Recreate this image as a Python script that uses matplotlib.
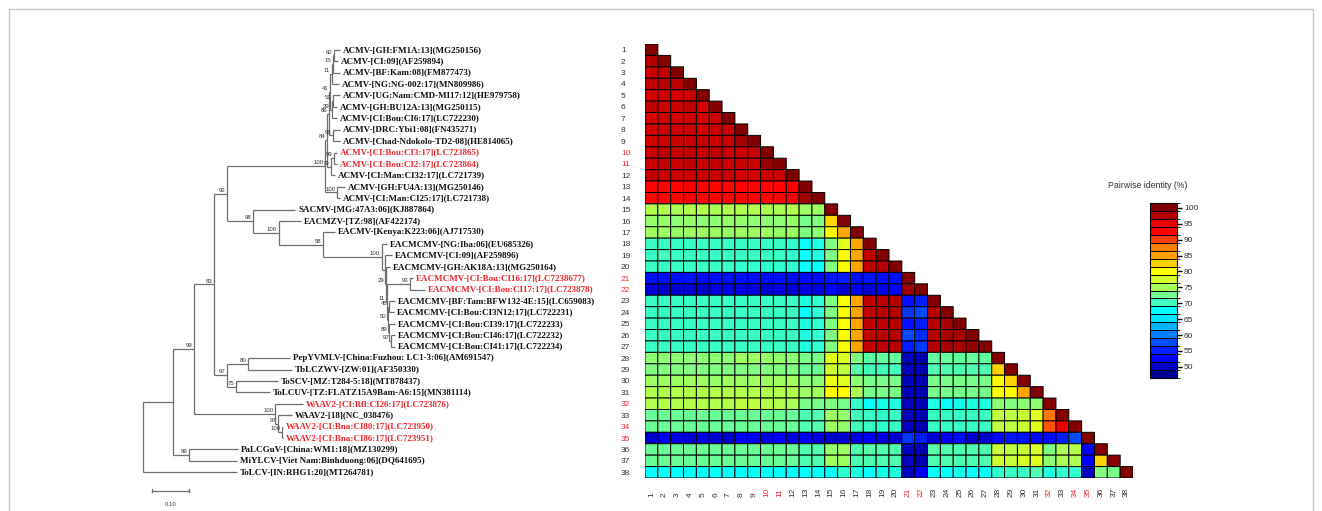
import numpy as np
import matplotlib
matplotlib.use("Agg")
import matplotlib.pyplot as plt
from matplotlib.colors import ListedColormap, LinearSegmentedColormap, BoundaryNorm, Normalize
from matplotlib.cm import ScalarMappable
from matplotlib.patches import Rectangle

# ---------------------------------------------------------------- data
TIP_LABELS = [
    "ACMV-[GH:FM1A:13](MG250156)",
    "ACMV-[CI:09](AF259894)",
    "ACMV-[BF:Kam:08](FM877473)",
    "ACMV-[NG:NG-002:17](MN809986)",
    "ACMV-[UG:Nam:CMD-MI17:12](HE979758)",
    "ACMV-[GH:BU12A:13](MG250115)",
    "ACMV-[CI:Bou:CI6:17](LC722230)",
    "ACMV-[DRC:Ybi1:08](FN435271)",
    "ACMV-[Chad-Ndokolo-TD2-08](HE814065)",
    "ACMV-[CI:Bou:CI3:17](LC723865)",
    "ACMV-[CI:Bou:CI2:17](LC723864)",
    "ACMV-[CI:Man:CI32:17](LC721739)",
    "ACMV-[GH:FU4A:13](MG250146)",
    "ACMV-[CI:Man:CI25:17](LC721738)",
    "SACMV-[MG:47A3:06](KJ887864)",
    "EACMZV-[TZ:98](AF422174)",
    "EACMV-[Kenya:K223:06](AJ717530)",
    "EACMCMV-[NG:Iba:06](EU685326)",
    "EACMCMV-[CI:09](AF259896)",
    "EACMCMV-[GH:AK18A:13](MG250164)",
    "EACMCMV-[CI:Bou:CI16:17](LC7238677)",
    "EACMCMV-[CI:Bou:CI17:17](LC723878)",
    "EACMCMV-[BF:Tam:BFW132-4E:15](LC659083)",
    "EACMCMV-[CI:Bou:CI3N12:17](LC722231)",
    "EACMCMV-[CI:Bou:CI39:17](LC722233)",
    "EACMCMV-[CI:Bou:CI46:17](LC722232)",
    "EACMCMV-[CI:Bou:CI41:17](LC722234)",
    "PepYVMLV-[China:Fuzhou: LC1-3:06](AM691547)",
    "TbLCZWV-[ZW:01](AF350330)",
    "ToSCV-[MZ:T284-5:18](MT878437)",
    "ToLCUV-[TZ:FLATZ15A9Bam-A6:15](MN381114)",
    "WAAV2-[CI:Bfl:CI26:17](LC723876)",
    "WAAV2-[18](NC_038476)",
    "WAAV2-[CI:Bna:CI80:17](LC723950)",
    "WAAV2-[CI:Bna:CI86:17](LC723951)",
    "PaLCGuV-[China:WM1:18](MZ130299)",
    "MiYLCV-[Viet Nam:Binhduong:06](DQ641695)",
    "ToLCV-[IN:RHG1:20](MT264781)",
]
HIGHLIGHT = [10, 11, 21, 22, 32, 34, 35]   # isolates from this study (1-based)

# tree: tip = (branch length, tip index), node = (branch length, bootstrap, children)
ACMV = (0.265, "100", [
    (0.005, "84", [
        (0.005, "86", [
            (0.003, "41", [
                (0.005, "11", [
                    (0.003, "15", [
                        (0.003, "60", [(0.016, 0), (0.011, 1)]),
                        (0.019, 2)]),
                    (0.019, 3)]),
                (0.005, "39", [
                    (0.003, "51", [(0.019, 4), (0.011, 5)]),
                    (0.014, 6)]),
            ]),
            (0.011, "96", [(0.019, 7), (0.019, 8)]),
        ]),
        (0.011, "79", [
            (0.008, "99", [(0.008, 9), (0.008, 10)]),
            (0.011, 11)]),
    ]),
    (0.032, "100", [(0.022, 12), (0.008, 13)]),
])
EACMCMV = (0.159, "100", [
    (0.014, 17),
    (0.008, None, [
        (0.019, 18),
        (0.003, "29", [
            (0.011, 19),
            (0.003, "11", [
                (0.062, "93", [(0.008, 20), (0.041, 21)]),
                (0.003, "50", [
                    (0.003, "45", [(0.016, 22), (0.014, 23)]),
                    (0.003, "89", [
                        (0.016, 24),
                        (0.005, "97", [(0.011, 25), (0.011, 26)])]),
                ]),
            ]),
        ]),
    ]),
])
CASSAVA = (0.070, "98", [
    (0.114, 14),
    (0.070, "100", [
        (0.059, 15),
        (0.119, "58", [(0.032, 16), EACMCMV]),
    ]),
])
OTHERS = (0.035, "97", [
    (0.057, "80", [(0.114, 27), (0.119, 28)]),
    (0.024, "75", [(0.114, 29), (0.092, 30)]),
])
WAAV2 = (0.219, "100", [
    (0.076, 31),
    (0.008, "97", [
        (0.038, 32),
        (0.011, "100", [(0.003, 33), (0.003, 34)])]),
])
TREE = (0.0, None, [
    (0.081, None, [
        (0.057, "99", [
            (0.054, "83", [
                (0.035, "92", [ACMV, CASSAVA]),
                OTHERS,
            ]),
            WAAV2,
        ]),
        (0.043, "99", [(0.132, 35), (0.130, 36)]),
    ]),
    (0.254, 37),
])

# pairwise identity (%), lower triangle, row i vs columns 1..i
PID = [
    [100],
    [97.5, 100],
    [96.5, 97.0, 100],
    [97.0, 97.5, 97.0, 100],
    [96.0, 96.5, 96.0, 96.5, 100],
    [97.0, 96.5, 96.5, 97.0, 96.0, 100],
    [96.0, 96.5, 96.0, 96.5, 96.0, 96.5, 100],
    [96.0, 96.5, 96.5, 96.5, 96.0, 96.5, 96.5, 100],
    [96.0, 96.5, 96.5, 96.5, 96.5, 96.5, 96.5, 98.0, 100],
    [96.5, 97.0, 96.5, 97.0, 96.5, 97.0, 96.5, 96.5, 96.5, 100],
    [96.5, 97.0, 96.5, 97.0, 96.5, 97.0, 96.5, 96.5, 96.5, 99.0, 100],
    [97.0, 96.5, 96.5, 96.5, 96.5, 96.5, 96.5, 96.0, 96.0, 96.5, 96.5, 100],
    [92.5, 92.5, 92.5, 93.0, 92.5, 92.5, 92.5, 92.5, 92.5, 92.5, 92.5, 93.0, 100],
    [92.5, 92.5, 92.5, 93.0, 92.5, 92.5, 92.5, 92.5, 92.5, 92.5, 92.5, 94.0, 98.5, 100],
    [76.0, 76.0, 75.5, 76.0, 76.0, 75.5, 76.0, 76.0, 76.0, 75.5, 75.5, 76.0, 75.0, 75.0, 100],
    [74.5, 74.5, 74.0, 74.5, 74.0, 74.0, 74.5, 74.5, 74.0, 74.0, 74.0, 74.5, 73.0, 73.5, 82.5, 100],
    [75.0, 75.0, 74.5, 75.0, 75.0, 75.0, 74.5, 75.0, 75.0, 75.0, 74.5, 75.0, 73.5, 74.0, 80.5, 85.0, 100],
    [70.0, 70.0, 70.0, 70.0, 70.0, 70.0, 70.0, 70.0, 70.0, 70.0, 70.0, 69.5, 68.0, 69.0, 73.5, 78.5, 85.0, 100],
    [70.0, 70.5, 70.0, 70.0, 70.0, 70.0, 70.0, 70.0, 70.0, 70.0, 70.0, 69.5, 68.0, 69.0, 73.5, 80.0, 85.0, 97.0, 100],
    [70.0, 70.0, 70.0, 70.0, 70.0, 70.0, 70.0, 69.5, 69.5, 69.5, 69.5, 69.5, 68.0, 68.0, 73.5, 80.0, 85.0, 97.0, 97.5, 100],
    [54.0, 54.0, 54.0, 54.0, 53.5, 54.0, 54.0, 54.0, 54.0, 54.0, 54.0, 53.5, 53.5, 53.5, 54.5, 55.0, 54.0, 54.5, 54.0, 54.0, 100],
    [51.0, 50.5, 51.0, 51.0, 50.5, 51.5, 52.0, 51.5, 51.5, 51.0, 51.5, 51.0, 51.5, 51.5, 53.0, 51.0, 52.0, 51.0, 52.0, 53.0, 98.5, 100],
    [70.0, 70.0, 70.0, 70.0, 70.0, 70.0, 70.0, 70.0, 70.0, 70.0, 70.0, 70.0, 69.0, 69.5, 73.5, 80.0, 85.0, 96.8, 97.2, 97.5, 54.0, 55.0, 100],
    [70.0, 70.0, 70.0, 70.0, 70.0, 70.0, 70.0, 70.0, 70.0, 70.0, 70.0, 70.0, 68.0, 69.5, 73.5, 80.0, 85.0, 96.8, 97.2, 97.5, 56.5, 57.5, 97.5, 100],
    [70.0, 70.0, 70.0, 70.0, 70.0, 70.0, 70.0, 70.0, 70.0, 70.0, 70.0, 70.0, 69.0, 69.5, 73.5, 80.0, 85.0, 96.8, 97.2, 97.5, 54.0, 55.0, 97.5, 98.0, 100],
    [70.0, 70.0, 70.0, 70.0, 70.0, 70.0, 70.0, 70.0, 70.0, 70.0, 70.0, 70.0, 69.0, 69.5, 73.5, 80.0, 85.0, 96.8, 97.2, 97.5, 57.5, 56.0, 97.5, 98.0, 98.0, 100],
    [70.0, 70.0, 70.0, 70.0, 70.0, 70.0, 70.0, 70.0, 70.0, 70.0, 70.0, 70.0, 69.0, 69.5, 73.5, 80.0, 85.0, 96.8, 97.2, 97.5, 55.0, 56.5, 97.5, 98.0, 98.0, 99.0, 100],
    [74.0, 74.0, 74.0, 74.0, 74.0, 74.0, 74.0, 75.0, 75.0, 74.5, 74.5, 74.0, 73.0, 73.0, 78.5, 78.0, 73.5, 71.5, 72.0, 72.0, 50.0, 49.5, 72.0, 72.0, 72.0, 72.0, 72.0, 100],
    [73.5, 73.5, 73.5, 73.5, 73.5, 73.5, 73.5, 73.5, 73.5, 73.5, 73.5, 73.5, 72.5, 72.5, 77.5, 76.5, 71.5, 70.5, 70.5, 70.5, 50.0, 49.5, 71.0, 71.0, 71.0, 71.0, 71.0, 82.5, 100],
    [75.0, 75.0, 75.0, 75.0, 75.0, 74.5, 75.0, 75.0, 75.0, 75.0, 75.0, 75.0, 74.0, 74.0, 79.0, 78.5, 74.0, 73.0, 73.0, 73.0, 50.0, 49.5, 73.0, 73.0, 73.0, 73.0, 73.0, 80.5, 82.5, 100],
    [76.0, 76.0, 76.0, 76.0, 76.0, 76.0, 76.0, 76.0, 76.0, 76.0, 76.0, 76.0, 75.0, 75.0, 80.5, 80.5, 75.5, 73.0, 73.0, 73.0, 50.0, 49.5, 73.0, 73.0, 73.0, 73.0, 73.0, 80.5, 80.5, 85.0, 100],
    [76.0, 76.0, 76.0, 76.0, 76.0, 76.0, 76.0, 76.5, 76.5, 76.0, 76.0, 75.5, 73.0, 73.0, 73.5, 73.0, 70.0, 68.0, 68.5, 69.0, 50.0, 49.5, 69.0, 68.0, 68.5, 69.0, 69.0, 74.0, 73.5, 74.0, 74.0, 100],
    [72.5, 72.5, 72.5, 72.5, 72.5, 72.5, 72.5, 72.5, 72.5, 72.5, 72.5, 72.5, 71.0, 71.0, 75.0, 74.5, 70.5, 70.0, 69.5, 70.0, 50.0, 49.5, 70.0, 70.0, 70.0, 70.0, 70.0, 76.5, 76.5, 77.0, 78.5, 88.0, 100],
    [72.5, 72.5, 72.5, 72.5, 72.5, 72.5, 72.5, 72.5, 72.5, 72.5, 72.5, 72.5, 71.0, 71.0, 75.0, 74.5, 70.5, 70.0, 69.5, 70.0, 50.0, 49.5, 70.0, 70.0, 70.0, 70.0, 70.0, 76.5, 76.5, 77.0, 78.5, 89.5, 95.0, 100],
    [50.5, 52.5, 51.5, 51.0, 52.0, 51.0, 50.5, 52.5, 52.5, 51.5, 52.5, 51.5, 52.5, 51.5, 50.5, 51.0, 51.5, 52.5, 51.5, 51.0, 56.5, 55.0, 51.0, 52.5, 53.5, 50.5, 50.5, 53.5, 54.5, 54.5, 53.5, 53.5, 55.0, 57.5, 100],
    [72.5, 72.5, 72.5, 72.5, 72.5, 72.5, 72.5, 72.5, 72.5, 72.5, 72.5, 72.5, 71.0, 71.0, 74.5, 75.0, 71.0, 71.5, 71.0, 71.0, 50.0, 49.5, 71.5, 71.0, 71.0, 71.0, 71.0, 77.0, 76.5, 77.0, 78.0, 73.5, 75.5, 76.0, 53.0, 100],
    [72.5, 72.5, 72.5, 72.5, 72.5, 72.5, 72.5, 72.5, 72.5, 72.5, 72.5, 72.5, 71.0, 71.0, 75.0, 75.0, 71.0, 71.0, 71.0, 71.0, 50.0, 49.0, 71.0, 71.0, 71.0, 71.0, 71.0, 77.5, 77.0, 78.0, 78.5, 74.0, 75.5, 75.5, 53.0, 82.5, 100],
    [68.0, 68.0, 68.0, 68.0, 68.0, 68.0, 68.0, 68.0, 68.0, 68.0, 68.0, 68.0, 68.0, 68.0, 68.0, 69.5, 69.0, 68.0, 68.5, 69.0, 50.0, 52.5, 68.0, 68.0, 68.5, 68.0, 68.0, 69.5, 70.0, 70.0, 71.0, 69.0, 69.5, 69.5, 50.0, 73.5, 73.0, 100],
]

CB_COLORS = ["#000090", "#0000c8", "#0000ff", "#0020ff", "#0050ff", "#0080ff",
             "#00b2ff", "#00e5ff", "#00ffff", "#40ffc0", "#70ff90", "#a5ff5a",
             "#d4ff2a", "#ffff00", "#ffd000", "#ffa000", "#ff7f00", "#ff3f00",
             "#ff0000", "#e60000", "#b20000", "#7f0000"]
CB_TICKS = [50, 55, 60, 65, 70, 75, 80, 85, 90, 95, 100]

# ---------------------------------------------------------------- figure
W, H = 1322, 511
fig = plt.figure(figsize=(W / 100, H / 100), dpi=100)
RED = "#f0282d"
TXT = "#333333"


def px_axes(left, top, right, bottom):
    return fig.add_axes([left / W, 1 - bottom / H, (right - left) / W, (bottom - top) / H])


def layout(node, x0, out):
    """Walk the tree, collecting segments; returns y of the node."""
    if len(node) == 2:
        bl, idx = node
        x = x0 + bl
        y = idx + 0.5
        out["tips"].append((idx, x, y))
        out["h"].append((x0, x, y))
        return y
    bl, bs, kids = node
    x = x0 + bl
    ys = [layout(k, x, out) for k in kids]
    y = (min(ys) + max(ys)) / 2
    out["v"].append((x, min(ys), max(ys)))
    if bl > 0:
        out["h"].append((x0, x, y))
    if bs:
        out["bs"].append((x, y, bs))
    return y


# ---- tree (x in substitutions/site, 370 px per unit)
tax = px_axes(140, 44, 560, 478)
tax.set_xlim(-3 / 370, 417 / 370)
tax.set_ylim(38, 0)
tax.axis("off")

segs = {"h": [], "v": [], "tips": [], "bs": []}
layout(TREE, 0.0, segs)
line_c = "#6e6e6e"
for x0, x1, y in segs["h"]:
    tax.plot([x0, x1], [y, y], color=line_c, lw=0.9, solid_capstyle="butt")
for x, y0, y1 in segs["v"]:
    tax.plot([x, x], [y0, y1], color=line_c, lw=0.9, solid_capstyle="butt")
for idx, x, y in segs["tips"]:
    tax.annotate(TIP_LABELS[idx], (x, y), xytext=(2.2, 0), textcoords="offset points",
                 ha="left", va="center", fontsize=6.5, fontweight="bold",
                 family="Liberation Serif",
                 color=RED if (idx + 1) in HIGHLIGHT else "#111111",
                 annotation_clip=False)
for x, y, bs in segs["bs"]:
    tax.annotate(bs, (x, y), xytext=(-1.2, 0.6), textcoords="offset points",
                 ha="right", va="bottom", fontsize=4.3, color=TXT,
                 family="Liberation Sans", annotation_clip=False)

# scale bar 0.10
sb_y = 39.1
tax.plot([0.024, 0.124], [sb_y, sb_y], color=line_c, lw=0.9, clip_on=False)
for xs in (0.024, 0.124):
    tax.plot([xs, xs], [sb_y - 0.15, sb_y + 0.15], color=line_c, lw=0.9, clip_on=False)
tax.text(0.074, 40.3, "0.10", ha="center", va="center", fontsize=4.3, color=TXT,
         family="Liberation Sans", clip_on=False)

# ---- heatmap (lower triangle only)
n = len(PID)
mat = np.full((n, n), np.nan)
for i, row in enumerate(PID):
    mat[i, :len(row)] = row
mat = np.ma.masked_invalid(mat)

cmap_cont = LinearSegmentedColormap.from_list("pid", CB_COLORS)
hax = px_axes(645, 44, 1133, 478)
hax.pcolor(np.arange(n + 1), np.arange(n + 1), mat, cmap=cmap_cont,
           norm=Normalize(47.75, 100.25), edgecolors="black", linewidth=0.7)
hax.set_xlim(0, n)
hax.set_ylim(n, 0)
for s in hax.spines.values():
    s.set_visible(False)

nums = [str(i) for i in range(1, n + 1)]
hax.set_yticks(np.arange(n) + 0.5)
hax.set_yticklabels(nums, fontsize=6, family="Liberation Sans", ha="left")
hax.set_xticks(np.arange(n) + 0.5)
hax.set_xticklabels(nums, fontsize=6, family="Liberation Sans", rotation=90, va="bottom")
hax.tick_params(axis="y", length=0, pad=17.3)
hax.tick_params(axis="x", length=0, pad=13.7)
for lab_list in (hax.get_yticklabels(), hax.get_xticklabels()):
    for k, lab in enumerate(lab_list):
        lab.set_color(RED if (k + 1) in HIGHLIGHT else TXT)

# ---- colour key
bounds = np.arange(46.5, 102.0, 2.5)
sm = ScalarMappable(norm=BoundaryNorm(bounds, len(CB_COLORS)), cmap=ListedColormap(CB_COLORS))
cax = px_axes(1150, 203, 1177, 378)
cb = fig.colorbar(sm, cax=cax, drawedges=True, ticks=CB_TICKS)
cb.outline.set_linewidth(0.8)
cb.dividers.set_color("black")
cb.dividers.set_linewidth(0.7)
cax.tick_params(length=3.5, width=1.0, labelsize=6, pad=1.5, labelcolor=TXT)
for lab in cax.get_yticklabels():
    lab.set_family("Liberation Sans")
fig.text(1108 / W, 1 - 186 / H, "Pairwise identity (%)", fontsize=6.3, color=TXT,
         family="Liberation Sans", ha="left", va="center")

# thin frame round the panel
fig.add_artist(Rectangle((9 / W, -0.01), (1313 - 9) / W, 1.01 - 9 / H, transform=fig.transFigure,
                         fill=False, edgecolor="#c8c8c8", lw=1.0))

fig.savefig("out.png", dpi=100)
